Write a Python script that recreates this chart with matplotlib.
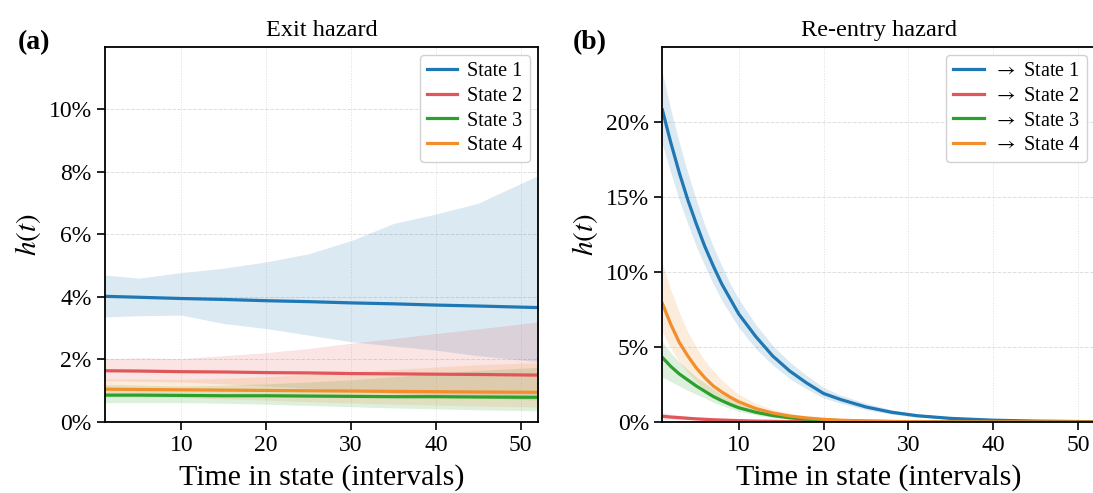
import numpy as np
import matplotlib
matplotlib.use('agg')
import matplotlib.pyplot as plt
from matplotlib.ticker import PercentFormatter

plt.rcParams['font.family'] = ['Liberation Serif', 'DejaVu Serif']
plt.rcParams['mathtext.fontset'] = 'stix'

# ---- data (hazard, in %) ----
states = ['State 1', 'State 2', 'State 3', 'State 4']
colors = ['#1f77b4', '#e15759', '#2ca02c', '#f28e2b']

# exit hazard
exit_t = [1, 5, 10, 15, 20, 25, 30, 35, 40, 45, 52]
exit_mean = [
    [4.02, 3.99, 3.95, 3.92, 3.88, 3.85, 3.81, 3.78, 3.74, 3.71, 3.66],
    [1.64, 1.63, 1.61, 1.60, 1.58, 1.57, 1.55, 1.54, 1.53, 1.52, 1.50],
    [0.86, 0.86, 0.85, 0.84, 0.84, 0.83, 0.82, 0.81, 0.81, 0.80, 0.79],
    [1.05, 1.04, 1.03, 1.02, 1.01, 1.00, 0.99, 0.98, 0.97, 0.96, 0.95],
]
exit_hi = [
    [4.70, 4.60, 4.78, 4.92, 5.12, 5.38, 5.80, 6.35, 6.65, 7.00, 7.88],
    [2.03, 2.05, 2.03, 2.12, 2.22, 2.35, 2.52, 2.67, 2.83, 2.98, 3.20],
    [1.20, 1.18, 1.15, 1.18, 1.22, 1.28, 1.35, 1.45, 1.55, 1.65, 1.75],
    [1.38, 1.38, 1.36, 1.40, 1.45, 1.52, 1.60, 1.68, 1.76, 1.83, 1.90],
]
exit_lo = [
    [3.36, 3.40, 3.42, 3.15, 2.99, 2.78, 2.57, 2.43, 2.30, 2.12, 1.93],
    [1.32, 1.30, 1.28, 1.22, 1.15, 1.08, 1.00, 0.92, 0.85, 0.78, 0.70],
    [0.62, 0.62, 0.62, 0.60, 0.57, 0.53, 0.49, 0.45, 0.42, 0.39, 0.36],
    [0.80, 0.79, 0.78, 0.74, 0.70, 0.65, 0.61, 0.57, 0.54, 0.51, 0.48],
]

# re-entry hazard
re_t = [1, 2, 3, 4, 5, 6, 7, 8, 9, 10, 12, 14, 16, 18, 20, 22, 25, 28, 31, 35, 40, 45, 52]
re_mean = [
    [20.8, 18.6, 16.6, 14.8, 13.2, 11.7, 10.4, 9.2, 8.2, 7.2, 5.7, 4.4, 3.4, 2.6, 1.9,
     1.5, 1.0, 0.65, 0.42, 0.24, 0.12, 0.06, 0.02],
    [0.38, 0.33, 0.29, 0.25, 0.21, 0.18, 0.15, 0.13, 0.11, 0.09, 0.06, 0.045, 0.03, 0.02, 0.015,
     0.01, 0.006, 0.004, 0.002, 0.001, 0.0, 0.0, 0.0],
    [4.3, 3.7, 3.2, 2.8, 2.4, 2.05, 1.7, 1.42, 1.17, 0.95, 0.65, 0.43, 0.28, 0.19, 0.13,
     0.09, 0.05, 0.03, 0.015, 0.008, 0.004, 0.002, 0.001],
    [7.9, 6.5, 5.3, 4.4, 3.6, 2.95, 2.4, 2.0, 1.65, 1.35, 0.9, 0.6, 0.4, 0.27, 0.18,
     0.12, 0.07, 0.04, 0.02, 0.01, 0.005, 0.002, 0.001],
]
re_hi = [
    [23.3, 20.8, 18.6, 16.6, 14.8, 13.1, 11.7, 10.4, 9.2, 8.2, 6.5, 5.1, 4.0, 3.1, 2.3,
     1.8, 1.25, 0.82, 0.54, 0.32, 0.16, 0.08, 0.03],
    [0.62, 0.52, 0.44, 0.37, 0.31, 0.26, 0.22, 0.18, 0.15, 0.13, 0.09, 0.065, 0.045, 0.03, 0.022,
     0.015, 0.009, 0.006, 0.003, 0.002, 0.001, 0.0, 0.0],
    [5.35, 4.6, 4.0, 3.5, 3.0, 2.6, 2.2, 1.85, 1.55, 1.28, 0.9, 0.6, 0.4, 0.27, 0.19,
     0.13, 0.075, 0.045, 0.025, 0.012, 0.006, 0.003, 0.001],
    [10.6, 8.8, 7.3, 6.0, 5.0, 4.1, 3.4, 2.8, 2.3, 1.85, 1.25, 0.85, 0.57, 0.39, 0.26,
     0.18, 0.1, 0.06, 0.03, 0.015, 0.007, 0.003, 0.001],
]
re_lo = [
    [18.5, 16.6, 14.8, 13.2, 11.7, 10.4, 9.2, 8.1, 7.2, 6.3, 4.9, 3.8, 2.9, 2.2, 1.6,
     1.25, 0.82, 0.52, 0.33, 0.18, 0.09, 0.04, 0.01],
    [0.2, 0.18, 0.16, 0.14, 0.12, 0.1, 0.09, 0.08, 0.065, 0.055, 0.04, 0.03, 0.02, 0.013, 0.01,
     0.007, 0.004, 0.002, 0.001, 0.0, 0.0, 0.0, 0.0],
    [3.0, 2.7, 2.4, 2.1, 1.85, 1.6, 1.32, 1.1, 0.9, 0.72, 0.48, 0.31, 0.2, 0.13, 0.09,
     0.06, 0.035, 0.02, 0.01, 0.005, 0.002, 0.001, 0.0],
    [6.0, 4.9, 4.0, 3.3, 2.7, 2.2, 1.8, 1.45, 1.2, 0.98, 0.64, 0.42, 0.28, 0.18, 0.12,
     0.08, 0.045, 0.025, 0.012, 0.006, 0.003, 0.001, 0.0],
]

fig = plt.figure(figsize=(10.93, 4.93), dpi=100)
ax1 = fig.add_axes([0.096, 0.144, 0.396, 0.761])
ax2 = fig.add_axes([0.606, 0.144, 0.396, 0.761])


def draw(ax, t, mean, lo, hi, labels, ymax, ystep, title):
    t = np.array(t)
    for m, l, h, c, lab in zip(mean, lo, hi, colors, labels):
        ax.fill_between(t, np.array(l) / 100, np.array(h) / 100, color=c, alpha=0.16, lw=0)
        ax.plot(t, np.array(m) / 100, color=c, lw=2.3, label=lab)
    ax.set_xlim(1, 52)
    ax.set_ylim(0, ymax)
    ax.set_xticks([10, 20, 30, 40, 50])
    ax.set_yticks(np.arange(0, ymax - 1e-9, ystep))
    ax.yaxis.set_major_formatter(PercentFormatter(1.0, decimals=0))
    ax.grid(axis='y', ls='--', lw=0.7, color='#d0d0d0', alpha=0.7)
    ax.grid(axis='x', ls=':', lw=0.7, color='#d0d0d0', alpha=0.7)
    ax.set_axisbelow(True)
    ax.tick_params(labelsize=17, length=6, width=1.2, direction='out')
    for s in ax.spines.values():
        s.set_linewidth(1.3)
    ax.set_xlabel('Time in state (intervals)', fontsize=21.5, labelpad=6)
    ax.set_ylabel('$h(t)$', fontsize=21, labelpad=4)
    ax.set_title(title, fontsize=17.5, pad=8)
    ax.legend(loc='upper right', fontsize=14.5, handlelength=1.5, framealpha=0.9,
              borderpad=0.35, labelspacing=0.28, handletextpad=0.5, borderaxespad=0.4)


draw(ax1, exit_t, exit_mean, exit_lo, exit_hi, states, 0.12, 0.02, 'Exit hazard')
draw(ax2, re_t, re_mean, re_lo, re_hi, ['$\\rightarrow$ ' + s for s in states],
     0.25, 0.05, 'Re-entry hazard')

fig.text(0.016, 0.9, '(a)', fontsize=20, fontweight='bold')
fig.text(0.524, 0.9, '(b)', fontsize=20, fontweight='bold')

fig.savefig('out.png', dpi=100)
